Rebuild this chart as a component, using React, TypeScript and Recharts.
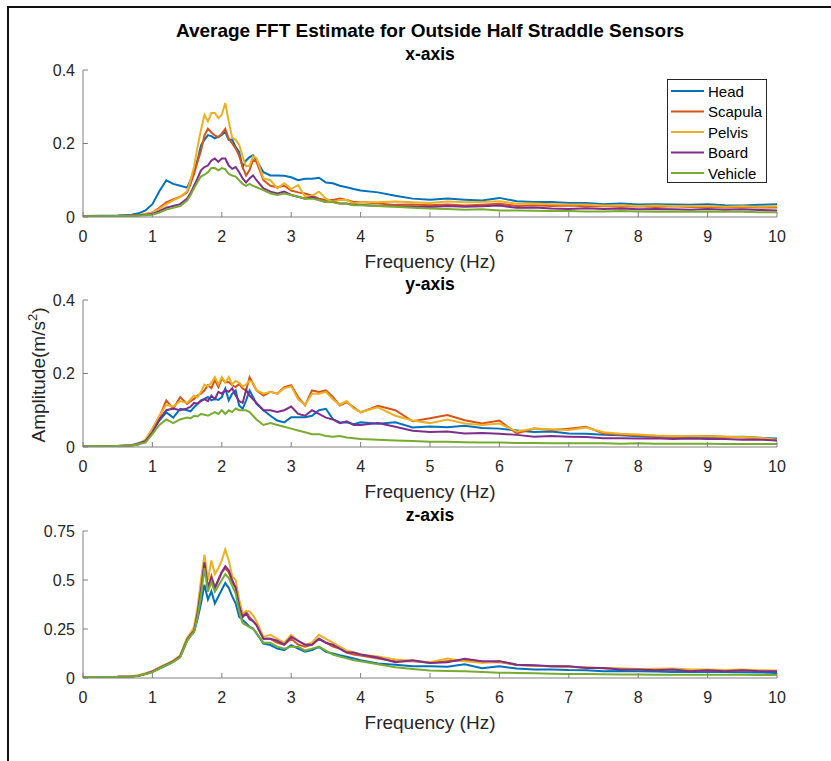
import React from 'react'
import { LineChart, Line, XAxis, YAxis } from 'recharts'

const freq = [
  0, 0.5, 0.7, 0.8, 0.9, 1.0, 1.1, 1.2, 1.3, 1.4,
  1.5, 1.55, 1.6, 1.65, 1.7, 1.75, 1.8, 1.85, 1.9, 1.95,
  2.0, 2.05, 2.1, 2.15, 2.2, 2.25, 2.3, 2.35, 2.4, 2.45,
  2.5, 2.6, 2.7, 2.8, 2.9, 3.0, 3.1, 3.2, 3.3, 3.4,
  3.5, 3.6, 3.7, 3.8, 3.9, 4.0, 4.25, 4.5, 4.75, 5.0,
  5.25, 5.5, 5.75, 6.0, 6.25, 6.5, 6.75, 7.0, 7.25, 7.5,
  7.75, 8.0, 8.25, 8.5, 8.75, 9.0, 9.25, 9.5, 9.75, 10,
]

// x-axis panel
const headX = [
  0.003, 0.004, 0.006, 0.01, 0.018, 0.035, 0.07, 0.1, 0.09, 0.085,
  0.08, 0.1, 0.127, 0.154, 0.195, 0.21, 0.223, 0.22, 0.214, 0.218,
  0.223, 0.232, 0.21, 0.211, 0.19, 0.177, 0.136, 0.154, 0.163, 0.168,
  0.154, 0.122, 0.113, 0.113, 0.112, 0.108, 0.1, 0.104, 0.104, 0.107,
  0.094, 0.092, 0.085, 0.081, 0.076, 0.072, 0.067, 0.058, 0.05, 0.047,
  0.05, 0.047, 0.045, 0.052, 0.043, 0.041, 0.041, 0.038, 0.038, 0.035,
  0.037, 0.034, 0.035, 0.034, 0.033, 0.035, 0.032, 0.031, 0.033, 0.035,
]
const scapulaX = [
  0.002, 0.003, 0.004, 0.005, 0.008, 0.012, 0.025, 0.04, 0.048, 0.055,
  0.067, 0.09, 0.117, 0.15, 0.18, 0.222, 0.24, 0.23, 0.222, 0.217,
  0.227, 0.24, 0.213, 0.2, 0.186, 0.167, 0.136, 0.113, 0.128, 0.155,
  0.15, 0.1, 0.085, 0.081, 0.085, 0.072, 0.067, 0.064, 0.058, 0.05,
  0.046, 0.046, 0.05, 0.046, 0.041, 0.041, 0.037, 0.033, 0.034, 0.032,
  0.034, 0.031, 0.033, 0.036, 0.03, 0.032, 0.03, 0.031, 0.029, 0.03,
  0.028, 0.029, 0.027, 0.029, 0.027, 0.028, 0.026, 0.027, 0.026, 0.026,
]
const pelvisX = [
  0.002, 0.003, 0.004, 0.005, 0.008, 0.012, 0.022, 0.035, 0.045, 0.055,
  0.07, 0.1, 0.136, 0.19, 0.237, 0.278, 0.26, 0.283, 0.283, 0.269,
  0.278, 0.31, 0.26, 0.216, 0.21, 0.197, 0.165, 0.138, 0.14, 0.165,
  0.16, 0.105, 0.1, 0.078, 0.092, 0.076, 0.087, 0.055, 0.058, 0.069,
  0.05, 0.041, 0.046, 0.046, 0.037, 0.041, 0.04, 0.042, 0.04, 0.038,
  0.042, 0.04, 0.041, 0.043, 0.036, 0.037, 0.035, 0.034, 0.034, 0.031,
  0.032, 0.03, 0.031, 0.03, 0.029, 0.03, 0.028, 0.029, 0.028, 0.029,
]
const boardX = [
  0.002, 0.003, 0.004, 0.005, 0.006, 0.008, 0.016, 0.025, 0.03, 0.035,
  0.05, 0.065, 0.085, 0.105, 0.127, 0.136, 0.14, 0.154, 0.159, 0.15,
  0.159, 0.159, 0.14, 0.131, 0.136, 0.122, 0.105, 0.094, 0.105, 0.113,
  0.1, 0.078, 0.069, 0.064, 0.069, 0.06, 0.055, 0.05, 0.055, 0.046,
  0.041, 0.041, 0.037, 0.037, 0.033, 0.033, 0.03, 0.029, 0.028, 0.027,
  0.03, 0.028, 0.029, 0.031, 0.025, 0.026, 0.023, 0.022, 0.024, 0.022,
  0.023, 0.021, 0.022, 0.021, 0.02, 0.022, 0.02, 0.021, 0.019, 0.018,
]
const vehicleX = [
  0.002, 0.003, 0.003, 0.004, 0.005, 0.006, 0.012, 0.02, 0.025, 0.03,
  0.045, 0.06, 0.078, 0.095, 0.11, 0.115, 0.122, 0.133, 0.133, 0.127,
  0.133, 0.13, 0.117, 0.113, 0.11, 0.1, 0.09, 0.085, 0.09, 0.085,
  0.081, 0.073, 0.064, 0.06, 0.064, 0.06, 0.055, 0.05, 0.05, 0.046,
  0.041, 0.041, 0.037, 0.036, 0.032, 0.032, 0.03, 0.028, 0.025, 0.023,
  0.022, 0.02, 0.021, 0.018, 0.018, 0.017, 0.016, 0.016, 0.015, 0.015,
  0.016, 0.015, 0.014, 0.015, 0.014, 0.015, 0.014, 0.014, 0.013, 0.013,
]

// y-axis panel
const headY = [
  0.002, 0.003, 0.004, 0.007, 0.017, 0.044, 0.072, 0.094, 0.08, 0.104,
  0.1, 0.097, 0.108, 0.117, 0.127, 0.131, 0.136, 0.127, 0.131, 0.128,
  0.136, 0.159, 0.127, 0.145, 0.154, 0.113, 0.104, 0.127, 0.154, 0.136,
  0.117, 0.1, 0.085, 0.072, 0.067, 0.081, 0.081, 0.081, 0.085, 0.1,
  0.104, 0.076, 0.067, 0.067, 0.062, 0.067, 0.063, 0.067, 0.053, 0.056,
  0.054, 0.058, 0.052, 0.05, 0.045, 0.041, 0.042, 0.037, 0.036, 0.033,
  0.032, 0.029, 0.028, 0.028, 0.027, 0.026, 0.027, 0.028, 0.025, 0.023,
]
const scapulaY = [
  0.002, 0.003, 0.004, 0.008, 0.018, 0.049, 0.081, 0.127, 0.104, 0.136,
  0.117, 0.125, 0.131, 0.14, 0.145, 0.154, 0.168, 0.16, 0.182, 0.163,
  0.186, 0.176, 0.177, 0.168, 0.163, 0.172, 0.159, 0.154, 0.19, 0.172,
  0.154, 0.14, 0.15, 0.145, 0.163, 0.168, 0.136, 0.113, 0.154, 0.15,
  0.154, 0.136, 0.113, 0.122, 0.108, 0.094, 0.112, 0.1, 0.07, 0.078,
  0.087, 0.073, 0.064, 0.072, 0.037, 0.05, 0.046, 0.05, 0.055, 0.037,
  0.034, 0.032, 0.03, 0.028, 0.029, 0.03, 0.028, 0.026, 0.024, 0.018,
]
const pelvisY = [
  0.002, 0.003, 0.004, 0.008, 0.02, 0.05, 0.085, 0.115, 0.11, 0.125,
  0.12, 0.13, 0.14, 0.135, 0.15, 0.17, 0.165, 0.175, 0.19, 0.17,
  0.19, 0.175, 0.19, 0.17, 0.18, 0.175, 0.165, 0.17, 0.18, 0.175,
  0.155, 0.145, 0.15, 0.145, 0.16, 0.165, 0.13, 0.115, 0.145, 0.145,
  0.15, 0.13, 0.115, 0.125, 0.105, 0.095, 0.108, 0.085, 0.072, 0.065,
  0.075, 0.064, 0.06, 0.064, 0.042, 0.05, 0.048, 0.046, 0.053, 0.04,
  0.036, 0.034, 0.031, 0.03, 0.029, 0.029, 0.028, 0.027, 0.025, 0.02,
]
const boardY = [
  0.002, 0.003, 0.005, 0.01, 0.016, 0.04, 0.075, 0.1, 0.105, 0.1,
  0.105, 0.11, 0.12, 0.118, 0.125, 0.13, 0.125, 0.14, 0.13, 0.15,
  0.145, 0.155, 0.15, 0.16, 0.14, 0.125, 0.12, 0.155, 0.14, 0.13,
  0.12, 0.1, 0.1, 0.095, 0.1, 0.11, 0.09, 0.085, 0.1, 0.09,
  0.08, 0.075, 0.065, 0.07, 0.06, 0.06, 0.065, 0.055, 0.044, 0.041,
  0.042, 0.037, 0.038, 0.036, 0.033, 0.028, 0.03, 0.028, 0.027, 0.024,
  0.024, 0.023, 0.024, 0.022, 0.023, 0.022, 0.022, 0.02, 0.02, 0.018,
]
const vehicleY = [
  0.002, 0.003, 0.004, 0.008, 0.012, 0.035, 0.06, 0.075, 0.065, 0.075,
  0.08, 0.078, 0.085, 0.083, 0.09, 0.088, 0.085, 0.09, 0.095, 0.09,
  0.1, 0.09, 0.1, 0.095, 0.105, 0.1, 0.1, 0.1, 0.095, 0.085,
  0.075, 0.06, 0.065, 0.06, 0.055, 0.05, 0.045, 0.04, 0.035, 0.035,
  0.03, 0.028, 0.03, 0.026, 0.024, 0.022, 0.02, 0.018, 0.016, 0.014,
  0.014, 0.013, 0.012, 0.012, 0.011, 0.011, 0.01, 0.01, 0.01, 0.01,
  0.009, 0.01, 0.009, 0.009, 0.009, 0.009, 0.008, 0.008, 0.008, 0.008,
]

// z-axis panel
const headZ = [
  0.005, 0.006, 0.008, 0.012, 0.02, 0.031, 0.048, 0.065, 0.082, 0.108,
  0.19, 0.215, 0.235, 0.3, 0.38, 0.476, 0.4, 0.442, 0.38, 0.416,
  0.45, 0.485, 0.46, 0.416, 0.38, 0.313, 0.296, 0.28, 0.262, 0.253,
  0.228, 0.176, 0.168, 0.15, 0.142, 0.168, 0.15, 0.134, 0.142, 0.159,
  0.134, 0.125, 0.116, 0.108, 0.1, 0.091, 0.074, 0.068, 0.06, 0.06,
  0.058, 0.07, 0.05, 0.06, 0.048, 0.043, 0.044, 0.041, 0.04, 0.034,
  0.036, 0.034, 0.033, 0.031, 0.032, 0.031, 0.03, 0.029, 0.028, 0.026,
]
const scapulaZ = [
  0.005, 0.006, 0.008, 0.013, 0.022, 0.034, 0.052, 0.068, 0.086, 0.112,
  0.2, 0.225, 0.245, 0.33, 0.45, 0.58, 0.46, 0.52, 0.46, 0.5,
  0.54, 0.56, 0.54, 0.49, 0.46, 0.38, 0.32, 0.34, 0.31, 0.29,
  0.27, 0.2, 0.2, 0.18, 0.17, 0.2, 0.17, 0.16, 0.17, 0.2,
  0.18, 0.16, 0.15, 0.13, 0.12, 0.115, 0.1, 0.085, 0.085, 0.078,
  0.085, 0.09, 0.08, 0.082, 0.066, 0.063, 0.06, 0.058, 0.053, 0.05,
  0.046, 0.045, 0.042, 0.044, 0.038, 0.04, 0.037, 0.039, 0.036, 0.036,
]
const pelvisZ = [
  0.005, 0.006, 0.009, 0.014, 0.024, 0.035, 0.055, 0.07, 0.09, 0.115,
  0.205, 0.23, 0.26, 0.36, 0.5, 0.63, 0.5, 0.6, 0.53, 0.56,
  0.6, 0.656, 0.6, 0.52, 0.5, 0.4, 0.33, 0.34, 0.34, 0.32,
  0.29, 0.21, 0.22, 0.2, 0.18, 0.22, 0.19, 0.17, 0.18, 0.22,
  0.2, 0.18, 0.16, 0.14, 0.13, 0.12, 0.11, 0.095, 0.088, 0.08,
  0.1, 0.085, 0.078, 0.085, 0.068, 0.062, 0.06, 0.056, 0.055, 0.05,
  0.05, 0.046, 0.047, 0.048, 0.043, 0.044, 0.041, 0.043, 0.04, 0.038,
]
const boardZ = [
  0.005, 0.006, 0.008, 0.012, 0.021, 0.033, 0.05, 0.068, 0.085, 0.11,
  0.195, 0.22, 0.24, 0.33, 0.45, 0.59, 0.46, 0.51, 0.46, 0.5,
  0.54, 0.57, 0.55, 0.5, 0.46, 0.37, 0.31, 0.33, 0.3, 0.29,
  0.27, 0.2, 0.2, 0.19, 0.17, 0.21, 0.19, 0.17, 0.17, 0.2,
  0.18, 0.17, 0.15, 0.13, 0.13, 0.12, 0.105, 0.08, 0.09, 0.077,
  0.08, 0.098, 0.086, 0.086, 0.068, 0.065, 0.06, 0.06, 0.051, 0.051,
  0.043, 0.043, 0.039, 0.043, 0.034, 0.039, 0.034, 0.039, 0.034, 0.034,
]
const vehicleZ = [
  0.005, 0.006, 0.008, 0.012, 0.02, 0.03, 0.048, 0.065, 0.082, 0.105,
  0.19, 0.215, 0.235, 0.31, 0.42, 0.56, 0.44, 0.49, 0.44, 0.47,
  0.5, 0.53, 0.51, 0.47, 0.43, 0.34, 0.28, 0.27, 0.26, 0.25,
  0.23, 0.18, 0.18, 0.16, 0.15, 0.16, 0.16, 0.14, 0.15, 0.16,
  0.14, 0.12, 0.11, 0.1, 0.09, 0.085, 0.07, 0.055, 0.046, 0.038,
  0.036, 0.034, 0.031, 0.027, 0.026, 0.024, 0.022, 0.021, 0.02, 0.019,
  0.018, 0.018, 0.017, 0.017, 0.016, 0.017, 0.016, 0.016, 0.015, 0.015,
]

const series = [
  { key: 'head', name: 'Head', color: '#0072BD' },
  { key: 'scapula', name: 'Scapula', color: '#D95319' },
  { key: 'pelvis', name: 'Pelvis', color: '#EDB120' },
  { key: 'board', name: 'Board', color: '#7E2F8E' },
  { key: 'vehicle', name: 'Vehicle', color: '#77AC30' },
]

const xTicks = [0, 1, 2, 3, 4, 5, 6, 7, 8, 9, 10]

const build = (h: number[], s: number[], p: number[], b: number[], v: number[]) =>
  freq.map((f, i) => ({ f, head: h[i], scapula: s[i], pelvis: p[i], board: b[i], vehicle: v[i] }))

const dataX = build(headX, scapulaX, pelvisX, boardX, vehicleX)
const dataY = build(headY, scapulaY, pelvisY, boardY, vehicleY)
const dataZ = build(headZ, scapulaZ, pelvisZ, boardZ, vehicleZ)

const FONT = 'Arial, "Liberation Sans", Helvetica, sans-serif'
const AXIS = '#808080'
const TXT = '#262626'

const XTick = (props: any) => {
  const { x, y, payload } = props
  return (
    <g>
      <line x1={x} x2={x} y1={y} y2={y - 5} stroke={AXIS} />
      <text x={x} y={y + 25} textAnchor="middle" fontSize={16} fill={TXT} fontFamily={FONT}>
        {payload.value}
      </text>
    </g>
  )
}

const YTick = (props: any) => {
  const { x, y, payload } = props
  return (
    <g>
      <line x1={x} x2={x + 5} y1={y} y2={y} stroke={AXIS} />
      <text x={x - 8} y={y + 5.5} textAnchor="end" fontSize={16} fill={TXT} fontFamily={FONT}>
        {payload.value}
      </text>
    </g>
  )
}

interface IPanel {
  top: number
  data: any[]
  yMax: number
  yTicks: number[]
}

// plot area is 83..777 horizontally, 147px tall
const Panel = ({ top, data, yMax, yTicks }: IPanel) => (
  <div style={{ position: 'absolute', left: 23, top: top - 10 }}>
    <LineChart width={764} height={187} data={data} margin={{ top: 10, right: 10, left: 0, bottom: 0 }}>
      <XAxis
        dataKey="f"
        type="number"
        domain={[0, 10]}
        ticks={xTicks}
        interval={0}
        height={30}
        tickSize={0}
        tickMargin={0}
        tickLine={false}
        tick={<XTick />}
        axisLine={{ stroke: AXIS }}
        allowDataOverflow
      />
      <YAxis
        type="number"
        domain={[0, yMax]}
        ticks={yTicks}
        interval={0}
        width={60}
        tickSize={0}
        tickMargin={0}
        tickLine={false}
        tick={<YTick />}
        axisLine={{ stroke: AXIS }}
        allowDataOverflow
      />
      {series.map((s) => (
        <Line
          key={s.key}
          type="linear"
          dataKey={s.key}
          name={s.name}
          stroke={s.color}
          strokeWidth={2}
          dot={false}
          isAnimationActive={false}
        />
      ))}
    </LineChart>
  </div>
)

const LegendBox = () => (
  <div
    style={{
      position: 'absolute',
      left: 667,
      top: 79,
      width: 100,
      height: 104,
      border: '1px solid #262626',
      background: '#fff',
      boxSizing: 'border-box',
    }}
  >
    <svg width={98} height={102}>
      {series.map((s, i) => (
        <g key={s.key}>
          <line x1={3} x2={36} y1={11 + i * 20.5} y2={11 + i * 20.5} stroke={s.color} strokeWidth={2} />
          <text x={40} y={16.5 + i * 20.5} fontSize={15} fill="#000" fontFamily={FONT}>
            {s.name}
          </text>
        </g>
      ))}
    </svg>
  </div>
)

const App = () => (
  <div style={{ position: 'absolute', left: 0, top: 0, width: 831, height: 761, background: '#fff', fontFamily: FONT }}>
    <div
      style={{
        position: 'absolute',
        left: 7,
        top: 6,
        width: 824,
        height: 755,
        borderLeft: '2px solid #111',
        borderTop: '2px solid #111',
        boxSizing: 'border-box',
      }}
    />
    <Panel top={70} data={dataX} yMax={0.4} yTicks={[0, 0.2, 0.4]} />
    <Panel top={300} data={dataY} yMax={0.4} yTicks={[0, 0.2, 0.4]} />
    <Panel top={531} data={dataZ} yMax={0.75} yTicks={[0, 0.25, 0.5, 0.75]} />
    <svg width={831} height={761} style={{ position: 'absolute', left: 0, top: 0, pointerEvents: 'none' }}>
      <g fontFamily={FONT} fill="#000" fontWeight="bold">
        <text x={430} y={36.5} textAnchor="middle" fontSize={19}>
          Average FFT Estimate for Outside Half Straddle Sensors
        </text>
        <text x={430} y={60} textAnchor="middle" fontSize={17.5}>x-axis</text>
        <text x={430} y={290} textAnchor="middle" fontSize={17.5}>y-axis</text>
        <text x={430} y={521} textAnchor="middle" fontSize={17.5}>z-axis</text>
      </g>
      <g fontFamily={FONT} fill={TXT} fontSize={19}>
        <text x={430} y={268} textAnchor="middle">Frequency (Hz)</text>
        <text x={430} y={498} textAnchor="middle">Frequency (Hz)</text>
        <text x={430} y={729} textAnchor="middle">Frequency (Hz)</text>
        <text transform="translate(45,375) rotate(-90)" textAnchor="middle" fontSize={19}>
          Amplitude(m/s<tspan dy={-8} fontSize={13}>2</tspan>
          <tspan dy={8}>)</tspan>
        </text>
      </g>
    </svg>
    <LegendBox />
  </div>
)

export default App
